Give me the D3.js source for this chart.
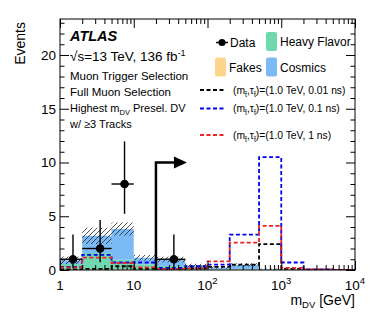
<!DOCTYPE html>
<html>
<head>
<meta charset="utf-8">
<script src="https://cdn.jsdelivr.net/npm/d3@7"></script>
<style>
  body { margin: 0; background: #fff; }
  svg { display: block; font-family: "Liberation Sans", Arial, sans-serif; }
</style>
</head>
<body>
<svg id="chart" width="374" height="322"></svg>
<script>
// bin edges in m_DV [GeV]
const binEdges = [1, 2, 5, 10, 20, 50, 100, 200, 500, 1000, 2000, 5000, 10000];

// stacked backgrounds (bottom -> top)
const fakes       = [0.05, 0.08, 0.06, 0.04, 0.03, 0.02, 0.02, 0.02, 0.01, 0, 0, 0];
const heavyFlavor = [0.50, 1.50, 0.90, 0.50, 0.35, 0.10, 0.05, 0.05, 0.02, 0, 0, 0];
const cosmics     = [0.35, 1.60, 2.85, 0.60, 0.60, 0.30, 0.15, 0.40, 0.05, 0.02, 0, 0];
const bkgUnc      = [0.35, 0.75, 0.60, 0.25, 0.25, 0.15, 0.10, 0.15, 0.05, 0.02, 0, 0];

// signal samples
const sig001 = [0.05, 0.10, 0.35, 0.10, 0.10, 0.15, 0.30, 0.50, 2.40, 0.10, 0.02, 0];
const sig01  = [0.30, 1.40, 0.70, 0.70, 0.20, 0.35, 0.50, 3.30, 10.5, 0.70, 0.05, 0];
const sig1   = [0.25, 1.15, 0.65, 0.25, 0.10, 0.15, 0.80, 2.55, 4.10, 0.20, 0.05, 0];

// observed data (only drawn bins)
const dataLo   = [1, 2, 5, 20];
const dataHi   = [2, 5, 10, 50];
const dataVal  = [1, 2, 8, 1];
const dataErrDn = [0.83, 1.29, 2.77, 0.83];
const dataErrUp = [2.30, 2.64, 3.96, 2.30];

const yTicksMajor = [0, 5, 10, 15, 20];
const xTicksMajor = [1, 10, 100, 1000, 10000];
const xTickExp = ["", "", "2", "3", "4"];

const svg = d3.select("#chart");
const L = 60, R = 355, T = 19, B = 270;
const x = d3.scaleLog().domain([1, 1e4]).range([L, R]);
const y = d3.scaleLinear().domain([0, 23.35]).range([B, T]);

const colFakes = "#fdd48b", colHF = "#6fd8ae", colCos = "#7cbaf6";

// hatch pattern
const defs = svg.append("defs");
const pat = defs.append("pattern").attr("id", "hatch")
  .attr("patternUnits", "userSpaceOnUse").attr("width", 5).attr("height", 5);
pat.append("path").attr("d", "M-1,1 L1,-1 M0,5 L5,0 M4,6 L6,4")
  .attr("stroke", "#222").attr("stroke-width", 0.8);
defs.append("clipPath").attr("id", "plot")
  .append("rect").attr("x", L).attr("y", T).attr("width", R - L).attr("height", B - T);

const g = svg.append("g").attr("clip-path", "url(#plot)");

// backgrounds stack
const rows = binEdges.slice(0, -1).map((e, i) => ({
  lo: e, fakes: fakes[i], hf: heavyFlavor[i], cos: cosmics[i]
}));
rows.push(Object.assign({}, rows[rows.length - 1], { lo: binEdges[binEdges.length - 1] }));
const stack = d3.stack().keys(["fakes", "hf", "cos"])(rows);
const area = d3.area().curve(d3.curveStepAfter)
  .x(d => x(d.data.lo)).y0(d => y(d[0])).y1(d => y(d[1]));
const fills = { fakes: colFakes, hf: colHF, cos: colCos };
g.selectAll(".bkg").data(stack).join("path")
  .attr("class", "bkg").attr("d", area).attr("fill", d => fills[d.key]);

// uncertainty hatch
const totals = rows.map((r, i) => {
  const k = Math.min(i, fakes.length - 1);
  return { lo: r.lo, t: fakes[k] + heavyFlavor[k] + cosmics[k], u: bkgUnc[k] };
});
g.append("path").datum(totals)
  .attr("d", d3.area().curve(d3.curveStepAfter)
    .x(d => x(d.lo)).y0(d => y(Math.max(0, d.t - d.u))).y1(d => y(d.t + d.u)))
  .attr("fill", "url(#hatch)");

// signals
const signals = [
  { v: sig001, c: "#000000" },
  { v: sig01, c: "#0000ee" },
  { v: sig1, c: "#ee2222" }
];
const stepLine = d3.line().curve(d3.curveStepAfter).x(d => x(d[0])).y(d => y(d[1]));
signals.forEach(s => {
  const pts = binEdges.map((e, i) => [e, s.v[Math.min(i, s.v.length - 1)]]);
  g.append("path").attr("d", stepLine(pts))
    .attr("fill", "none").attr("stroke", s.c).attr("stroke-width", 1.8)
    .attr("stroke-dasharray", "4,2.5");
});

// data points
const dg = svg.append("g").attr("stroke", "#000").attr("stroke-width", 1.4);
dataVal.forEach((v, i) => {
  const cx = x((dataLo[i] + dataHi[i]) / 2);
  dg.append("line").attr("x1", x(dataLo[i])).attr("x2", x(dataHi[i]))
    .attr("y1", y(v)).attr("y2", y(v));
  dg.append("line").attr("x1", cx).attr("x2", cx)
    .attr("y1", y(v - dataErrDn[i])).attr("y2", y(v + dataErrUp[i]));
  dg.append("circle").attr("cx", cx).attr("cy", y(v)).attr("r", 3.6).attr("fill", "#000");
});

// signal-region arrow
const ax = x(20), ay = y(10);
svg.append("path")
  .attr("d", `M${ax},${B} V${ay} H${ax + 19}`)
  .attr("fill", "none").attr("stroke", "#000").attr("stroke-width", 2.5);
svg.append("path")
  .attr("d", `M${ax + 18},${ay - 6} L${ax + 31},${ay} L${ax + 18},${ay + 6} Z`)
  .attr("fill", "#000");

// axes / frame
const minorX = [];
for (let d = 1; d < 1e4; d *= 10) for (let k = 2; k <= 9; k++) minorX.push(d * k);
const minorY = d3.range(0, 24).filter(v => v % 5 !== 0);

function tickLayer(axisFn, scale, values, size, transform) {
  const a = svg.append("g").attr("transform", transform)
    .call(axisFn(scale).tickValues(values).tickSize(size).tickFormat(""));
  a.select(".domain").remove();
  a.selectAll("line").attr("stroke", "#000").attr("stroke-width", 1);
}
tickLayer(d3.axisBottom, x, xTicksMajor, -9, `translate(0,${B})`);
tickLayer(d3.axisBottom, x, minorX, -5, `translate(0,${B})`);
tickLayer(d3.axisTop, x, xTicksMajor, -9, `translate(0,${T})`);
tickLayer(d3.axisTop, x, minorX, -5, `translate(0,${T})`);
tickLayer(d3.axisLeft, y, yTicksMajor, -9, `translate(${L},0)`);
tickLayer(d3.axisLeft, y, minorY, -4.5, `translate(${L},0)`);
tickLayer(d3.axisRight, y, yTicksMajor, -9, `translate(${R},0)`);
tickLayer(d3.axisRight, y, minorY, -4.5, `translate(${R},0)`);

svg.append("rect").attr("x", L).attr("y", T).attr("width", R - L).attr("height", B - T)
  .attr("fill", "none").attr("stroke", "#000").attr("stroke-width", 1);

// tick labels
yTicksMajor.forEach(v => {
  svg.append("text").attr("x", L - 4).attr("y", y(v) + 4.8)
    .attr("text-anchor", "end").attr("font-size", 13.5).text(v);
});
xTicksMajor.forEach((v, i) => {
  const t = svg.append("text").attr("x", x(v)).attr("y", 290)
    .attr("text-anchor", "middle").attr("font-size", 13.5);
  if (xTickExp[i] === "") t.text(v);
  else {
    t.append("tspan").text("10");
    t.append("tspan").attr("dy", -6).attr("font-size", 9.5).text(xTickExp[i]);
  }
});

// axis titles
const xt = svg.append("text").attr("x", R).attr("y", 305)
  .attr("text-anchor", "end").attr("font-size", 14);
xt.append("tspan").text("m");
xt.append("tspan").attr("dy", 3).attr("font-size", 9.5).text("DV");
xt.append("tspan").attr("dy", -3).text(" [GeV]");

svg.append("text").attr("transform", "translate(25,22) rotate(-90)")
  .attr("text-anchor", "end").attr("font-size", 14).text("Events");

// labels (left)
svg.append("text").attr("x", 70).attr("y", 41).attr("font-size", 14.5)
  .attr("font-weight", "bold").attr("font-style", "italic").text("ATLAS");
const lum = svg.append("text").attr("x", 70).attr("y", 61).attr("font-size", 13.5);
lum.append("tspan").text("\u221As=13 TeV, 136 fb");
lum.append("tspan").attr("dy", -5).attr("font-size", 9).text("-1");
const sel = ["Muon Trigger Selection", "Full Muon Selection"];
sel.forEach((s, i) => {
  svg.append("text").attr("x", 70).attr("y", 80 + i * 15.5).attr("font-size", 11.5).text(s);
});
const hi = svg.append("text").attr("x", 70).attr("y", 111.5).attr("font-size", 11);
hi.append("tspan").text("Highest m");
hi.append("tspan").attr("dy", 3).attr("font-size", 7.5).text("DV");
hi.append("tspan").attr("dy", -3).text(" Presel. DV");
svg.append("text").attr("x", 70).attr("y", 128).attr("font-size", 11).text("w/ \u22653 Tracks");

// legend
const lg = svg.append("g");
lg.append("line").attr("x1", 216).attr("x2", 228).attr("y1", 42.5).attr("y2", 42.5)
  .attr("stroke", "#000").attr("stroke-width", 1.4);
lg.append("circle").attr("cx", 222).attr("cy", 42.5).attr("r", 3.6).attr("fill", "#000");
lg.append("text").attr("x", 230).attr("y", 46.5).attr("font-size", 12).text("Data");
const boxes = [
  { x: 266, y: 32, c: colHF, t: "Heavy Flavor" },
  { x: 215, y: 57.5, c: colFakes, t: "Fakes" },
  { x: 266, y: 57.5, c: colCos, t: "Cosmics" }
];
boxes.forEach(b => {
  lg.append("rect").attr("x", b.x).attr("y", b.y).attr("width", 11).attr("height", 19)
    .attr("rx", 2).attr("fill", b.c);
  lg.append("text").attr("x", b.x + 14).attr("y", b.y + 14).attr("font-size", 12).text(b.t);
});
const sigLab = ["0.01 ns", "0.1 ns", "1 ns"];
const sigY = [90, 108.5, 135];
signals.forEach((s, i) => {
  lg.append("line").attr("x1", 200).attr("x2", 225).attr("y1", sigY[i]).attr("y2", sigY[i])
    .attr("stroke", s.c).attr("stroke-width", 1.8).attr("stroke-dasharray", "4,2.5");
  const t = lg.append("text").attr("x", 233).attr("y", sigY[i] + 3.8).attr("font-size", 10.3);
  t.append("tspan").text("(m");
  t.append("tspan").attr("dy", 3).attr("font-size", 7).text("t\u0303");
  t.append("tspan").attr("dy", -3).text(",\u03c4");
  t.append("tspan").attr("dy", 3).attr("font-size", 7).text("t\u0303");
  t.append("tspan").attr("dy", -3).text(")=(1.0 TeV, " + sigLab[i] + ")");
});
</script>
</body>
</html>
